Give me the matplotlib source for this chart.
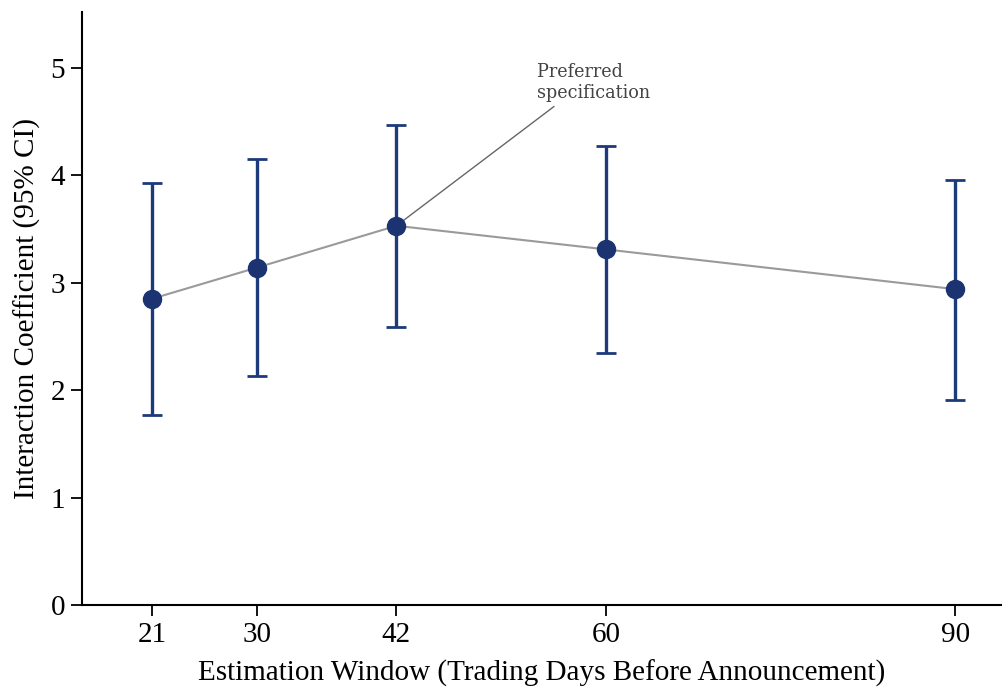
import numpy as np
import matplotlib
matplotlib.use("Agg")
from matplotlib import pyplot as plt

plt.rcParams["font.family"] = ["Liberation Serif", "DejaVu Serif"]

# Data
windows = [21, 30, 42, 60, 90]
coef = [2.85, 3.14, 3.53, 3.31, 2.94]
ci_low = [1.77, 2.13, 2.59, 2.35, 1.91]
ci_high = [3.93, 4.15, 4.47, 4.27, 3.96]
preferred = 42

coef = np.array(coef)
yerr = np.vstack([coef - np.array(ci_low), np.array(ci_high) - coef])

fig = plt.figure(figsize=(10.02, 6.87), dpi=100)
ax = fig.add_axes([0.0818, 0.1194, 0.9182, 0.8631])

ax.plot(windows, coef, color="#9a9a9a", linewidth=1.5, zorder=2)
ax.errorbar(windows, coef, yerr=yerr, fmt="none", ecolor="#1d3a7a",
            elinewidth=2.4, capsize=7.5, capthick=2.0, zorder=3)
ax.plot(windows, coef, "o", color="#1b3370", markersize=13, zorder=4)

i = windows.index(preferred)
ax.annotate("Preferred\nspecification", xy=(preferred, coef[i]), xytext=(54.1, 5.05),
            ha="left", va="top", fontsize=14, color="#444444", family="DejaVu Serif",
            fontstretch="condensed", linespacing=1.25,
            arrowprops=dict(arrowstyle="-", color="#666666", lw=1.0,
                            relpos=(0.2, 0.0), shrinkA=2, shrinkB=0))

ax.set_xlim(15, 94)
ax.set_ylim(0, 5.52)
ax.set_xticks(windows)
ax.set_yticks(range(6))
ax.tick_params(labelsize=21, length=8, width=1.3, direction="out", colors="black", pad=4)
for s in ["top", "right"]:
    ax.spines[s].set_visible(False)
for s in ["left", "bottom"]:
    ax.spines[s].set_linewidth(1.5)

ax.set_xlabel("Estimation Window (Trading Days Before Announcement)", fontsize=21, labelpad=9)
ax.set_ylabel("Interaction Coefficient (95% CI)", fontsize=21, labelpad=7)

fig.savefig("out.png", dpi=100)
